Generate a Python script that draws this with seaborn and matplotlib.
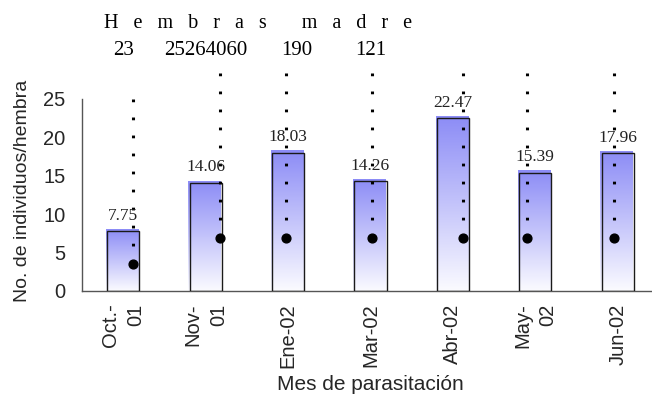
import matplotlib
matplotlib.use("Agg")
import matplotlib.pyplot as plt
from matplotlib.colors import LinearSegmentedColormap
import numpy as np
import pandas as pd
import seaborn as sns

# datos
meses = ["Oct.-\n01", "Nov-\n01", "Ene-02", "Mar-02", "Abr-02", "May-\n02", "Jun-02"]
individuos = [7.75, 14.06, 18.03, 14.26, 22.47, 15.39, 17.96]
punto_y = [3.5, 6.9, 6.9, 6.9, 6.9, 6.9, 6.9]
punto_desfase = [0.12, 0.17, -0.02, 0.02, 0.12, -0.10, -0.04]
linea_sup = [25.8, 28.8, 28.8, 28.8, 28.8, 28.8, 28.8]
hembras = ["23", "25264060", "190", "121"]

sns.set_style("white")
plt.rcParams["font.family"] = ["Liberation Sans", "DejaVu Sans"]
serif = ["Liberation Serif", "DejaVu Serif"]

W, H = 652, 403
fig = plt.figure(figsize=(W / 100, H / 100), dpi=100)
ax = fig.add_axes([82 / W, 112 / H, 577 / W, 192 / H])

df = pd.DataFrame({"mes": meses, "valor": individuos})
sns.barplot(data=df, x="mes", y="valor", width=0.39, color="white", ax=ax, zorder=3)

# relleno degradado azul -> blanco en cada barra
cmap = LinearSegmentedColormap.from_list("azul", ["#fbfbff", "#8c8cf6"])
grad = np.linspace(0, 1, 256).reshape(-1, 1)
for p in ax.patches:
    p.set_facecolor("none")
    p.set_edgecolor("#1a1a1a")
    p.set_linewidth(1.0)
    x0, w, h = p.get_x(), p.get_width(), p.get_height()
    ax.imshow(grad, extent=[x0 - 0.015, x0 + w - 0.015, 0, h + 0.25], origin="lower",
              cmap=cmap, aspect="auto", zorder=2)

xs = np.arange(len(meses)) + np.array(punto_desfase)
ax.vlines(xs, punto_y, linea_sup, colors="black", linewidth=2.2,
          linestyles=[(0, (0.9, 5.0))], zorder=4, clip_on=False)
ax.scatter(xs, punto_y, s=40, color="black", zorder=5, clip_on=False)

for i, v in enumerate(individuos):
    ax.text(i, v + 1.5, f"{v:.2f}", ha="center", va="baseline", family=serif,
            fontsize=12.5, color="#222222", zorder=6)

for i, t in enumerate(hembras):
    ax.text(i + (0.1 if t == "190" else 0), 1.229, t, transform=ax.get_xaxis_transform(),
            ha="center", va="baseline", family=serif, fontsize=15, color="black")

fig.text(258 / W, 1 - 28 / H, "H   e   m   b   r   a   s       m   a   d   r   e", ha="center",
         va="baseline", family=serif, fontsize=14.5, color="black")

ax.set_xlim(-0.5, 6.5)
ax.set_ylim(0, 25)
ax.set_yticks(range(0, 26, 5))
ax.set_xticks(range(len(meses)))
ax.set_xticklabels(meses, rotation=90, ha="center", va="top", multialignment="right",
                   linespacing=1.45)
ax.set_xticks(np.arange(-0.5, 7, 1), minor=True)
ax.tick_params(axis="x", which="major", length=0, pad=9, labelsize=14.5)
ax.tick_params(axis="x", which="minor", length=5, width=1, color="#555555", direction="out")
ax.tick_params(axis="y", length=5, width=1, color="#555555", direction="out", pad=7, labelsize=14.5)
ax.set_xlabel("")
ax.set_ylabel("")

for s in ["top", "right"]:
    ax.spines[s].set_visible(False)
for s in ["left", "bottom"]:
    ax.spines[s].set_color("#555555")
    ax.spines[s].set_linewidth(1)

fig.text(23 / W, 1 - 191 / H, "No. de individuos/hembra", rotation=90, ha="center",
         va="center", fontsize=14)
fig.text(370 / W, 1 - 384 / H, "Mes de parasitación", ha="center", va="center", fontsize=15)

fig.savefig("out.png", dpi=100)
